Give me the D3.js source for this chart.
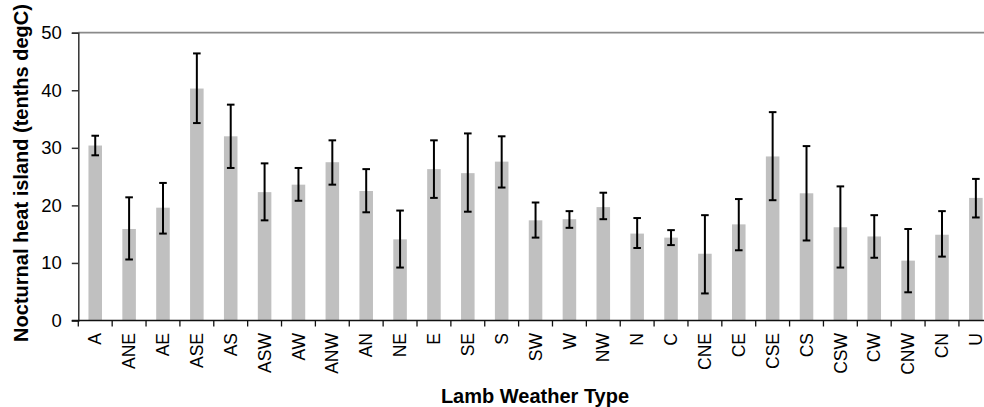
<!DOCTYPE html>
<html>
<head>
<meta charset="utf-8">
<script src="https://cdn.jsdelivr.net/npm/d3@7"></script>
<style>
  html, body { margin: 0; padding: 0; background: #fff; }
  svg { display: block; }
  text { font-family: "Liberation Sans", Arial, sans-serif; fill: #000; }
</style>
</head>
<body>
<svg id="chart" width="984" height="407"></svg>
<script>
// Lamb weather types
const categories = ["A","ANE","AE","ASE","AS","ASW","AW","ANW","AN","NE","E","SE","S","SW","W","NW","N","C","CNE","CE","CSE","CS","CSW","CW","CNW","CN","U"];
// Mean nocturnal heat island (tenths degC)
const means = [30.4,15.9,19.6,40.3,32.0,22.3,23.6,27.5,22.5,14.1,26.3,25.6,27.6,17.4,17.6,19.7,15.1,14.4,11.6,16.7,28.5,22.1,16.2,14.6,10.4,14.9,21.3];
// Error bar upper and lower limits
const errUpper = [32.1,21.4,23.9,46.4,37.5,27.3,26.5,31.3,26.3,19.1,31.3,32.5,32.0,20.5,19.0,22.2,17.8,15.7,18.3,21.1,36.2,30.3,23.3,18.3,15.9,19.0,24.6];
const errLower = [28.7,10.6,15.1,34.3,26.5,17.4,20.8,23.6,18.8,9.2,21.3,18.9,23.1,14.4,16.1,17.6,12.6,13.1,4.7,12.2,20.9,13.9,9.2,10.9,4.9,11.1,17.9];
const yTicks = [0,10,20,30,40,50];
const yTitle = "Nocturnal heat island (tenths degC)";
const xTitle = "Lamb Weather Type";

const svg = d3.select("#chart");
const mLeft = 78.3, mRight = 992.8, mTop = 32.7, mBottom = 320.5;

const x = d3.scaleBand().domain(categories).range([mLeft, mRight]).paddingInner(0.6).paddingOuter(0.3);
const y = d3.scaleLinear().domain([0, 50]).range([mBottom, mTop]);
const step = x.step();

// top line at 50
svg.append("line")
  .attr("x1", mLeft).attr("x2", 984)
  .attr("y1", y(50)).attr("y2", y(50))
  .attr("stroke", "#8a8a8a").attr("stroke-width", 1.8);

// bars
svg.append("g").selectAll("rect").data(categories).join("rect")
  .attr("x", d => x(d))
  .attr("width", x.bandwidth())
  .attr("y", (d, i) => y(means[i]))
  .attr("height", (d, i) => y(0) - y(means[i]))
  .attr("fill", "#c0c0c0");

// error bars
const eg = svg.append("g").attr("stroke", "#000").attr("stroke-width", 2).attr("fill", "none");
categories.forEach((c, i) => {
  const cx = x(c) + x.bandwidth() / 2;
  const cap = 3.8;
  eg.append("line").attr("x1", cx).attr("x2", cx).attr("y1", y(errUpper[i])).attr("y2", y(errLower[i]));
  eg.append("line").attr("x1", cx - cap).attr("x2", cx + cap).attr("y1", y(errUpper[i])).attr("y2", y(errUpper[i]));
  eg.append("line").attr("x1", cx - cap).attr("x2", cx + cap).attr("y1", y(errLower[i])).attr("y2", y(errLower[i]));
});

// y axis
const yAxis = d3.axisLeft(y).tickValues(yTicks).tickSize(6.5).tickPadding(10);
const yg = svg.append("g").attr("transform", `translate(${mLeft},0)`).call(yAxis);
yg.select(".domain").attr("stroke", "#333").attr("stroke-width", 1.5);
yg.selectAll(".tick line").attr("stroke", "#333").attr("stroke-width", 1.5);
yg.selectAll(".tick text").attr("font-size", 18.5).attr("font-family", "Liberation Sans, Arial, sans-serif").attr("fill", "#000");

// x axis line
svg.append("line").attr("x1", mLeft - 6.5).attr("x2", 984)
  .attr("y1", mBottom).attr("y2", mBottom)
  .attr("stroke", "#111").attr("stroke-width", 1.5);

// x ticks at category boundaries
const boundaries = d3.range(categories.length + 1).map(i => mLeft + i * step);
svg.append("g").selectAll("line").data(boundaries).join("line")
  .attr("x1", d => d).attr("x2", d => d)
  .attr("y1", mBottom).attr("y2", mBottom + 6)
  .attr("stroke", "#111").attr("stroke-width", 1.3);

// x tick labels
svg.append("g").selectAll("text").data(categories).join("text")
  .attr("transform", d => `translate(${x(d) + x.bandwidth() / 2},333) rotate(-90)`)
  .attr("text-anchor", "end")
  .attr("dy", "0.35em")
  .attr("font-size", 17.5)
  .text(d => d);

// titles
svg.append("text")
  .attr("transform", `translate(28,173) rotate(-90)`)
  .attr("text-anchor", "middle")
  .attr("font-size", 20).attr("font-weight", "bold")
  .text(yTitle);

svg.append("text")
  .attr("x", 535).attr("y", 403)
  .attr("text-anchor", "middle")
  .attr("font-size", 20).attr("font-weight", "bold")
  .text(xTitle);
</script>
</body>
</html>
